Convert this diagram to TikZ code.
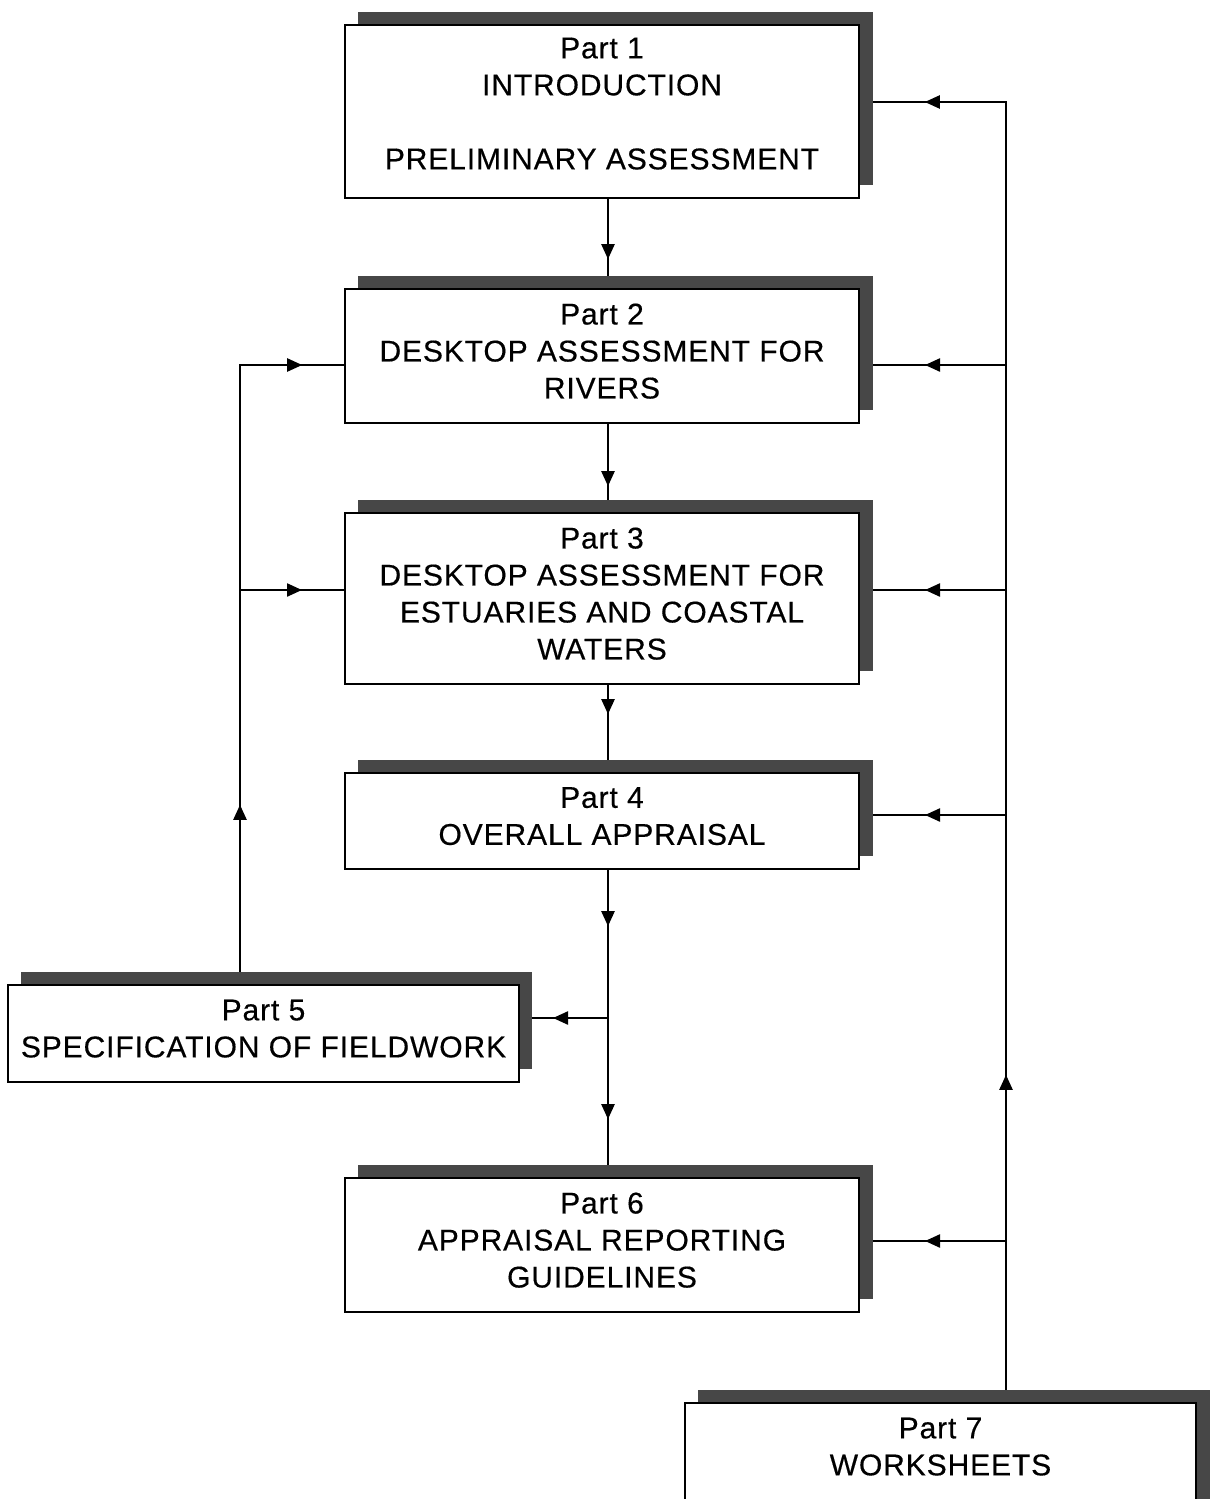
\documentclass[tikz,border=0pt]{standalone}
\usepackage{fontspec}
\newfontfamily\partfont[LetterSpace=3,FakeBold=0.4]{Liberation Sans}
\usetikzlibrary{arrows.meta,decorations.markings,calc}
\begin{document}
\begin{tikzpicture}[x=1pt,y=-1pt,
  boxnode/.style={draw, line width=2.4pt, fill=white, inner sep=0pt, align=center,
    font=\partfont\fontsize{30pt}{37pt}\selectfont},
  shadebox/.style={fill=black!72, draw=none, inner sep=0pt},
  conn/.style={line width=2.3pt},
  tipat/.style={postaction={decorate, decoration={markings,
    mark=at position #1 with {\arrow{Triangle[length=15pt,width=13pt]}}}}}]
\useasboundingbox (0,0) rectangle (1213,1499);
% shadows
\node[shadebox, minimum width=515pt, minimum height=173pt] (p1s) at (615.5,98.5) {};
\node[shadebox, minimum width=515pt, minimum height=134pt] (p2s) at (615.5,343) {};
\node[shadebox, minimum width=515pt, minimum height=171pt] (p3s) at (615.5,585.5) {};
\node[shadebox, minimum width=515pt, minimum height=96pt] (p4s) at (615.5,808) {};
\node[shadebox, minimum width=511pt, minimum height=97pt] (p5s) at (276.5,1020.5) {};
\node[shadebox, minimum width=515pt, minimum height=134pt] (p6s) at (615.5,1232) {};
\node[shadebox, minimum width=512pt, minimum height=150pt] (p7s) at (954,1465) {};
% boxes
\node[boxnode, minimum width=514pt, minimum height=173pt] (p1) at (602,111.5)
  {Part 1\\INTRODUCTION\\[37pt]PRELIMINARY ASSESSMENT\\[-21pt]\mbox{}};
\node[boxnode, minimum width=514pt, minimum height=134pt] (p2) at (602,356)
  {Part 2\\DESKTOP ASSESSMENT FOR\\RIVERS\\[-27pt]\mbox{}};
\node[boxnode, minimum width=514pt, minimum height=171pt] (p3) at (602,598.5)
  {Part 3\\DESKTOP ASSESSMENT FOR\\ESTUARIES AND COASTAL\\WATERS\\[-27pt]\mbox{}};
\node[boxnode, minimum width=514pt, minimum height=96pt] (p4) at (602,821)
  {Part 4\\OVERALL APPRAISAL\\[-27pt]\mbox{}};
\node[boxnode, minimum width=511pt, minimum height=97pt] (p5) at (263.5,1033.5)
  {Part 5\\SPECIFICATION OF FIELDWORK\\[-27pt]\mbox{}};
\node[boxnode, minimum width=514pt, minimum height=134pt] (p6) at (602,1245)
  {Part 6\\APPRAISAL REPORTING\\GUIDELINES\\[-27pt]\mbox{}};
\node[boxnode, minimum width=511pt, minimum height=150pt] (p7) at (940.5,1478)
  {Part 7\\WORKSHEETS\\[26pt]\mbox{}};
% helper coordinates
\coordinate (L) at (240,0);
\coordinate (R) at (1006,0);
\coordinate (M) at (608,0);
\coordinate (b5) at (608,1018);
\coordinate (l2) at (240,365);
\coordinate (l3) at (240,590);
\coordinate (r1) at (1006,102);
\coordinate (r2) at (1006,365);
\coordinate (r3) at (1006,590);
\coordinate (r4) at (1006,815);
\coordinate (r6) at (1006,1241);
% main chain
\draw[conn, tipat=60pt] (M |- p1.south) -- (M |- p2s.north);
\draw[conn, tipat=62pt] (M |- p2.south) -- (M |- p3s.north);
\draw[conn, tipat=29pt] (M |- p3.south) -- (M |- p4s.north);
\draw[conn, tipat=56pt, tipat=249pt] (M |- p4.south) -- (M |- p6s.north);
\draw[conn, tipat=55pt] (b5) -- (b5 -| p5s.east);
% left feedback
\draw[conn, tipat=167pt, tipat=669pt] (L |- p5s.north) -- (l2) -- (l2 -| p2.west);
\draw[conn, tipat=62pt] (l3) -- (l3 -| p3.west);
% right feedback
\draw[conn, tipat=315pt, tipat=1369pt] (R |- p7s.north) -- (r1) -- (r1 -| p1s.east);
\draw[conn, tipat=81pt] (r2) -- (r2 -| p2s.east);
\draw[conn, tipat=81pt] (r3) -- (r3 -| p3s.east);
\draw[conn, tipat=81pt] (r4) -- (r4 -| p4s.east);
\draw[conn, tipat=81pt] (r6) -- (r6 -| p6s.east);
\end{tikzpicture}
\end{document}
